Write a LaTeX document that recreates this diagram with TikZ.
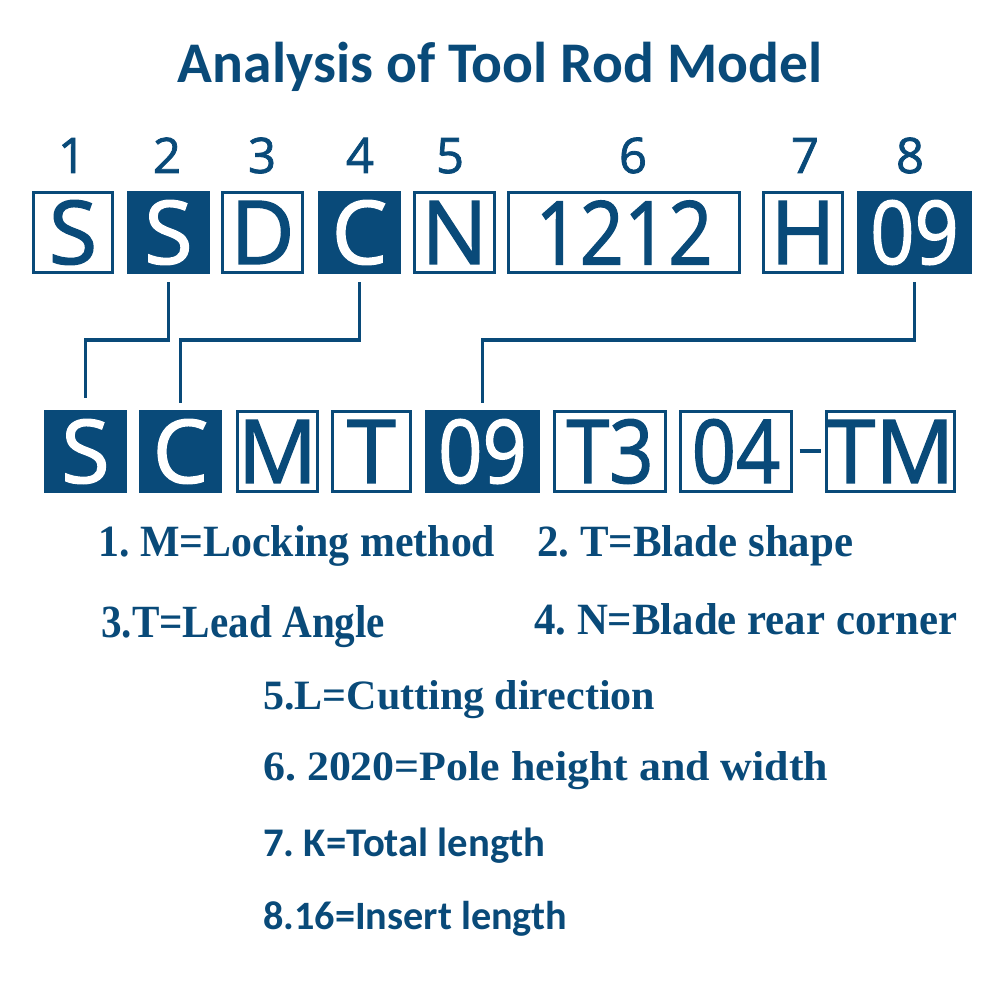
\documentclass[tikz,border=0pt]{standalone}
\usepackage{fontspec}
\usetikzlibrary{calc}
\newfontfamily\boxfont[FakeBold=1.6]{Open Sans}
\newfontfamily\calfont{Carlito}
\newfontfamily\serfont{Liberation Serif}
\definecolor{tb}{RGB}{9,74,121}
\frenchspacing
\begin{document}
\begin{tikzpicture}[x=1pt,y=-1pt,
  codebox/.style={draw=tb, line width=3pt, minimum height=80pt, inner sep=0pt, text=tb,
    font=\boxfont\fontsize{88}{90}\selectfont},
  filledbox/.style={codebox, fill=tb, text=white},
  num/.style={anchor=base, inner sep=0pt, text=tb, font=\boxfont\fontsize{49}{50}\selectfont},
  conn/.style={draw=tb, line width=3.5pt},
  lbl/.style={anchor=base west, inner sep=0pt, text=tb},
  ttl/.style={anchor=base, inner sep=0pt, text=tb}]
\useasboundingbox[fill=white] (0,0) rectangle (1000,1000);

% title
\node[ttl] (title) at (500,83) {\resizebox{644pt}{!}{\calfont\bfseries\fontsize{60}{70}\selectfont Analysis of Tool Rod Model}};

% position numbers
\node[num] (p1) at (72,173) {1};
\node[num] (p2) at (167,173) {2};
\node[num] (p3) at (262,173) {3};
\node[num] (p4) at (360,173) {4};
\node[num] (p5) at (450,173) {5};
\node[num] (p6) at (633,173) {6};
\node[num] (p7) at (805,173) {7};
\node[num] (p8) at (910,173) {8};

% top row
\node[codebox,   minimum width=79pt]  (t1) at (73,232.5)    {S};
\node[filledbox, minimum width=80pt]  (t2) at (168.5,232.5) {S};
\node[codebox,   minimum width=80pt]  (t3) at (262.5,232.5) {D};
\node[filledbox, minimum width=80pt]  (t4) at (359.5,232.5) {C};
\node[codebox,   minimum width=80pt]  (t5) at (454.5,232.5) {N};
\node[codebox,   minimum width=231pt] (t6) at (624,232.5)   {\scalebox{0.88}[1]{1212}};
\node[codebox,   minimum width=79pt]  (t7) at (803,232.5)   {H};
\node[filledbox, minimum width=112pt] (t8) at (914.5,232.5) {\scalebox{0.88}[1]{09}};

% bottom row
\node[filledbox, minimum width=80pt]  (u1) at (85.5,451.5)  {S};
\node[filledbox, minimum width=80pt]  (u2) at (180.5,451.5) {C};
\node[codebox,   minimum width=78pt]  (u3) at (277.5,451.5) {M};
\node[codebox,   minimum width=78pt]  (u4) at (371.5,451.5) {T};
\node[filledbox, minimum width=112pt] (u5) at (482.5,451.5) {\scalebox{0.88}[1]{09}};
\node[codebox,   minimum width=111pt] (u6) at (610,451.5)   {\scalebox{0.88}[1]{T3}};
\node[codebox,   minimum width=111pt] (u7) at (736,451.5)   {\scalebox{0.88}[1]{04}};
\node[codebox,   minimum width=122pt] (u8) at (890.5,451.5) {TM};

% dash between 04 and TM
\draw[conn, line width=4pt] ([xshift=6.5pt,yshift=0.5pt]u7.east) -- ([xshift=-3.5pt,yshift=0.5pt]u8.west);

% connectors
\draw[conn] ([yshift=-8pt]t2.south) -- ++(0,58) -| ([yshift=12pt]u1.north);
\draw[conn] ([yshift=-8pt]t4.south) -- ++(0,58) -| ([yshift=7pt]u2.north);
\draw[conn] ([yshift=-8pt]t8.south) -- ++(0,58) -| ([yshift=7pt]u5.north);

% legend
\node[lbl] (n1) at (98,556)  {\resizebox{397pt}{31pt}{\serfont\bfseries\fontsize{44}{50}\selectfont 1. M=Locking method}};
\node[lbl] (n2) at (537,556) {\resizebox{316pt}{31pt}{\serfont\bfseries\fontsize{44}{50}\selectfont 2. T=Blade shape}};
\node[lbl] (n3) at (101,637) {\resizebox{284pt}{32pt}{\serfont\bfseries\fontsize{44}{50}\selectfont 3.T=Lead Angle}};
\node[lbl] (n4) at (534,634) {\resizebox{423pt}{31pt}{\serfont\bfseries\fontsize{44}{50}\selectfont 4. N=Blade rear corner}};
\node[lbl] (n5) at (263,709) {\resizebox{392pt}{29pt}{\serfont\bfseries\fontsize{44}{50}\selectfont 5.L=Cutting direction}};
\node[lbl] (n6) at (263,780) {\resizebox{565pt}{29pt}{\serfont\bfseries\fontsize{44}{50}\selectfont 6. 2020=Pole height and width}};
\node[lbl] (n7) at (263,856) {\resizebox{282pt}{!}{\calfont\bfseries\fontsize{44}{50}\selectfont 7. K=Total length}};
\node[lbl] (n8) at (263,929) {\resizebox{304pt}{!}{\calfont\bfseries\fontsize{44}{50}\selectfont 8.16=Insert length}};
\end{tikzpicture}
\end{document}
